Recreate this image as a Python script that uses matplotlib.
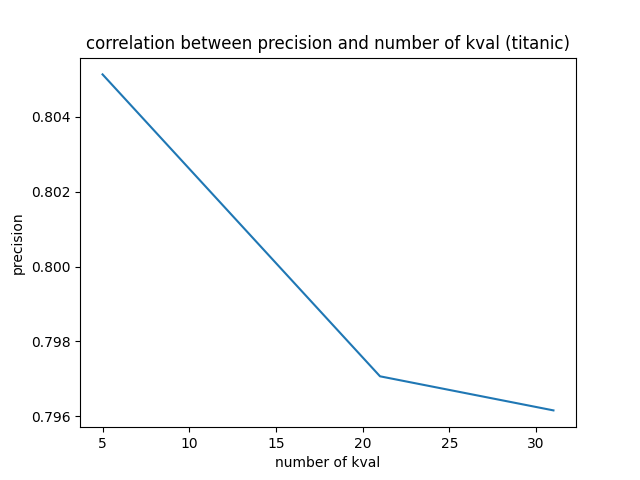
from matplotlib import pyplot as plt

kvals = [5, 21, 31]
precision = [0.80513, 0.79707, 0.79616]

plt.figure(figsize=(6.4, 4.8), dpi=100)
plt.plot(kvals, precision)
plt.xlabel("number of kval")
plt.ylabel("precision")
plt.title("correlation between precision and number of kval (titanic)")
plt.savefig("out.png")
